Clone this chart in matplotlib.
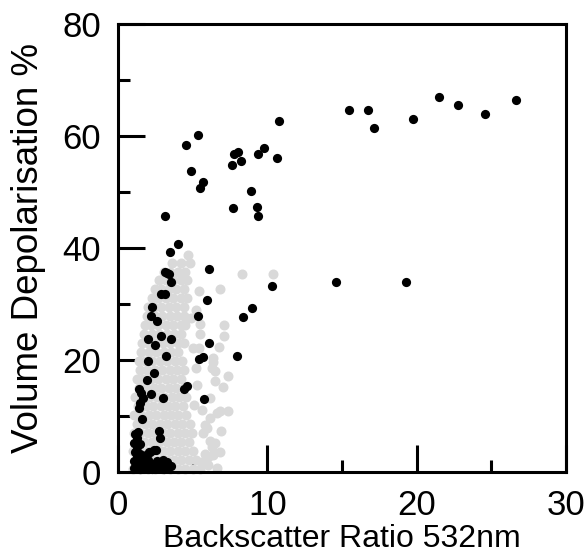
import matplotlib
matplotlib.use("Agg")
from matplotlib import pyplot as plt
from matplotlib.ticker import MultipleLocator

# black points: (backscatter ratio, depolarisation %)
black_x = [15.49, 16.72, 17.12, 19.78, 21.52, 22.75, 24.56, 26.66, 14.58, 19.27,
           10.78, 5.36, 4.55, 4.87, 5.67, 5.49, 8.02, 7.79, 8.22, 7.64, 9.38, 9.78,
           10.65, 8.91, 7.72, 9.33, 9.38, 3.15,
           4.04, 3.48, 3.18, 3.30, 3.42, 3.53, 6.12, 10.31, 2.86, 3.15, 5.98, 2.28,
           8.98, 8.39, 2.23, 2.63, 5.34, 1.99, 2.86, 3.53, 2.48, 6.12, 2.03, 3.24,
           5.45, 5.67, 7.99, 2.38, 1.95, 1.39, 1.52, 2.22, 3.04, 5.79, 4.60, 4.45,
           1.65, 1.47, 1.41, 1.60, 2.75, 2.81,
           1.10, 1.30, 1.50, 1.70, 1.90, 2.10, 2.30, 2.50, 2.70, 2.90, 3.10, 3.30,
           3.55, 1.10, 1.25, 1.15, 1.30, 1.10, 1.25, 1.15, 1.40, 1.50, 1.45, 1.60,
           1.75, 2.00, 2.10, 2.40, 2.60, 2.80, 3.00, 3.30, 2.30, 1.90, 1.35, 2.14,
           2.52]
black_y = [64.7, 64.7, 61.4, 63.0, 67.0, 65.5, 63.9, 66.4, 33.9, 33.9,
           62.7, 60.2, 58.4, 53.8, 51.7, 50.8, 57.1, 56.7, 55.5, 54.9, 56.7, 57.9,
           56.0, 50.2, 47.2, 47.3, 45.8, 45.7,
           40.7, 39.3, 35.7, 35.6, 35.4, 34.0, 36.3, 33.2, 31.7, 31.8, 30.8, 29.5,
           29.3, 27.6, 27.8, 26.9, 27.9, 23.8, 24.2, 23.8, 22.6, 23.0, 19.9, 20.7,
           20.1, 20.5, 20.7, 17.7, 16.5, 14.8, 14.1, 14.0, 13.2, 13.0, 15.3, 14.8,
           13.2, 12.3, 11.4, 9.5, 7.3, 6.0,
           0.7, 0.8, 0.6, 0.9, 0.7, 0.8, 0.6, 0.9, 0.7, 0.8, 0.6, 0.9,
           1.0, 2.0, 2.8, 3.6, 4.4, 5.2, 6.0, 6.8, 1.6, 3.2, 5.0, 2.4,
           1.8, 2.2, 3.5, 3.9, 2.0, 1.6, 2.2, 1.8, 1.5, 3.0, 7.2, 3.6,
           3.9]

# grey points, read row by row from the dense wedge, then the scattered ones
grey_pts = [
    (1.0, 0.6), (1.5, 0.6), (2.0, 0.6), (2.5, 0.6), (3.0, 0.6), (3.5, 0.6), (4.0, 0.6), (4.5, 0.6), (5.0, 0.6), (5.5, 0.6),
    (1.25, 2.2), (1.75, 2.2), (2.25, 2.2), (2.75, 2.2), (3.25, 2.2), (3.75, 2.2), (4.25, 2.2), (4.75, 2.2), (5.25, 2.2),
    (1.0, 3.8), (1.5, 3.8), (2.0, 3.8), (2.5, 3.8), (3.0, 3.8), (3.5, 3.8), (4.0, 3.8), (4.5, 3.8), (5.0, 3.8),
    (1.25, 5.4), (1.75, 5.4), (2.25, 5.4), (2.75, 5.4), (3.25, 5.4), (3.75, 5.4), (4.25, 5.4), (4.75, 5.4),
    (1.05, 7.0), (1.5, 7.0), (2.0, 7.0), (2.5, 7.0), (3.0, 7.0), (3.5, 7.0), (4.0, 7.0), (4.5, 7.0), (4.95, 7.0),
    (1.3, 8.6), (1.8, 8.6), (2.3, 8.6), (2.8, 8.6), (3.3, 8.6), (3.8, 8.6), (4.3, 8.6), (4.8, 8.6),
    (1.1, 10.2), (1.55, 10.2), (2.05, 10.2), (2.55, 10.2), (3.05, 10.2), (3.55, 10.2), (4.05, 10.2), (4.55, 10.2),
    (1.35, 11.8), (1.85, 11.8), (2.35, 11.8), (2.85, 11.8), (3.35, 11.8), (3.85, 11.8), (4.35, 11.8),
    (1.15, 13.4), (1.6, 13.4), (2.1, 13.4), (2.6, 13.4), (3.1, 13.4), (3.6, 13.4), (4.1, 13.4), (4.55, 13.4),
    (1.4, 15.0), (1.9, 15.0), (2.4, 15.0), (2.9, 15.0), (3.4, 15.0), (3.9, 15.0), (4.4, 15.0),
    (1.25, 16.6), (1.7, 16.6), (2.2, 16.6), (2.7, 16.6), (3.2, 16.6), (3.7, 16.6), (4.2, 16.6),
    (1.45, 18.2), (1.95, 18.2), (2.45, 18.2), (2.95, 18.2), (3.45, 18.2), (3.95, 18.2), (4.4, 18.2),
    (1.4, 19.8), (1.8, 19.8), (2.3, 19.8), (2.8, 19.8), (3.3, 19.8), (3.8, 19.8), (4.3, 19.8),
    (1.55, 21.4), (2.05, 21.4), (2.55, 21.4), (3.05, 21.4), (3.55, 21.4), (4.05, 21.4),
    (1.6, 23.0), (2.0, 23.0), (2.5, 23.0), (3.0, 23.0), (3.5, 23.0), (4.0, 23.0), (4.4, 23.0),
    (1.75, 24.6), (2.25, 24.6), (2.75, 24.6), (3.25, 24.6), (3.75, 24.6), (4.25, 24.6),
    (1.8, 26.2), (2.2, 26.2), (2.7, 26.2), (3.2, 26.2), (3.7, 26.2), (4.2, 26.2), (4.5, 26.2),
    (1.95, 27.8), (2.45, 27.8), (2.95, 27.8), (3.45, 27.8), (3.95, 27.8), (4.45, 27.8),
    (2.0, 29.4), (2.4, 29.4), (2.9, 29.4), (3.4, 29.4), (3.9, 29.4), (4.4, 29.4),
    (2.25, 31.0), (2.7, 31.0), (3.2, 31.0), (3.7, 31.0), (4.2, 31.0), (4.6, 31.0),
    (2.45, 32.6), (2.9, 32.6), (3.4, 32.6), (3.9, 32.6), (4.4, 32.6),
    (2.75, 34.2), (3.2, 34.2), (3.7, 34.2), (4.2, 34.2), (4.6, 34.2),
    (3.05, 35.8), (3.5, 35.8), (4.0, 35.8), (4.5, 35.8),
    (3.6, 37.4), (4.2, 37.4), (4.8, 37.4), (4.7, 38.7),
    (8.28, 35.3), (10.36, 35.4), (6.83, 32.7), (5.4, 32.4), (7.1, 26.2), (7.1, 24.3),
    (5.5, 24.6), (6.74, 22.4), (5.5, 26.5), (6.38, 20.3), (6.38, 19.6), (6.27, 18.5),
    (6.5, 18.0), (7.39, 17.1), (6.47, 16.3), (7.05, 15.2), (6.16, 13.3), (6.83, 10.9),
    (7.39, 10.9), (6.61, 10.5), (6.16, 9.6), (5.83, 8.4), (5.94, 7.9), (6.92, 7.4),
    (5.71, 6.9), (6.16, 5.5), (6.5, 5.1), (6.27, 4.5), (6.83, 3.6), (5.83, 3.3),
    (6.05, 2.7), (6.38, 3.0), (5.6, 1.8), (6.05, 1.25), (6.6, 0.7), (5.0, 22.2),
    (5.4, 22.2), (5.2, 29.0), (5.1, 12.0), (5.3, 15.5), (5.2, 18.5), (5.6, 11.0),
    (4.9, 27.5),
]
grey_x = [p[0] for p in grey_pts]
grey_y = [p[1] for p in grey_pts]

plt.rcParams["font.family"] = ["Liberation Sans", "DejaVu Sans"]

figure = plt.figure(figsize=(5.85, 5.57), dpi=100)
axis = figure.add_axes([0.2017, 0.1526, 0.7658, 0.8043])

axis.scatter(grey_x, grey_y, s=52, color="#d9d9d9", linewidths=0, clip_on=False, zorder=2)
axis.scatter(black_x, black_y, s=44, color="black", linewidths=0, clip_on=False, zorder=3)

axis.set_xlim(0, 30)
axis.set_ylim(0, 80)
axis.xaxis.set_major_locator(MultipleLocator(10))
axis.xaxis.set_minor_locator(MultipleLocator(5))
axis.yaxis.set_major_locator(MultipleLocator(20))
axis.yaxis.set_minor_locator(MultipleLocator(10))
axis.tick_params(which="both", direction="in", width=2.2, top=False, right=False,
                 labelsize=25, colors="black")
axis.tick_params(which="major", length=19.5, pad=12)
axis.tick_params(which="minor", length=8.6)
for spine in axis.spines.values():
    spine.set_linewidth(2.2)

axis.set_xlabel("Backscatter Ratio 532nm", fontsize=23, labelpad=2)
axis.set_ylabel("Volume Depolarisation %", fontsize=26.5, labelpad=12)

figure.savefig("out.png", dpi=100)
plt.close(figure)
